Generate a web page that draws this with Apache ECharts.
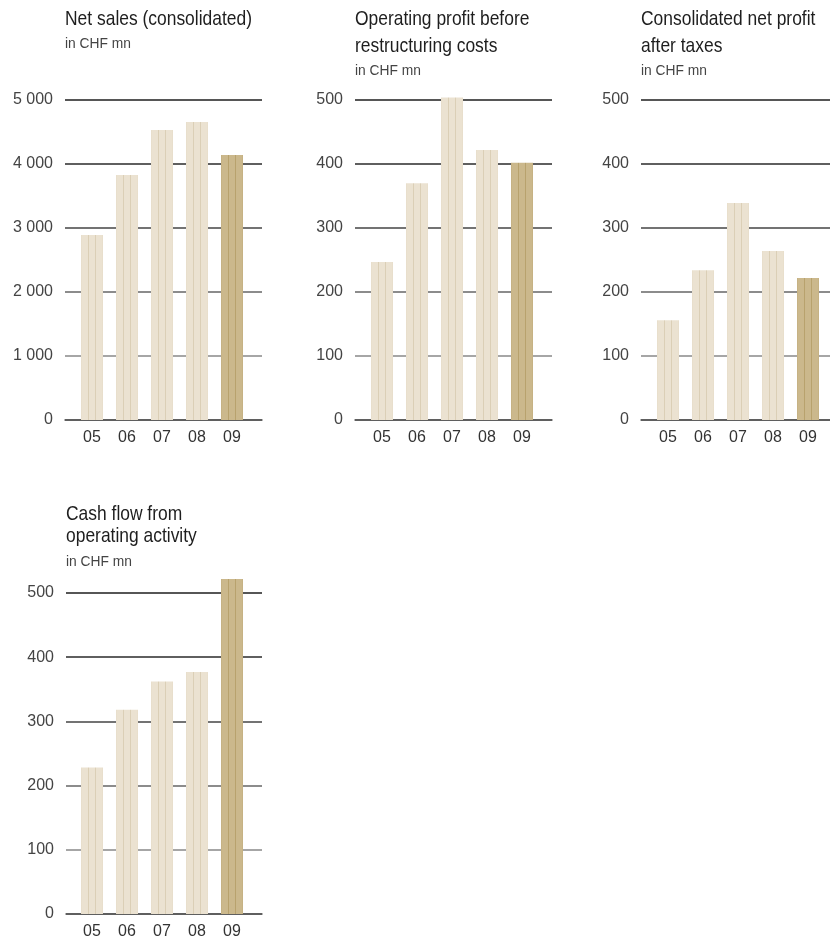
<!DOCTYPE html>
<html><head><meta charset="utf-8">
<script src="https://cdn.jsdelivr.net/npm/echarts@6/dist/echarts.min.js"></script>
<style>html,body{margin:0;padding:0;background:#fff}#c{width:830px;height:941px}</style>
</head><body><div id="c"></div>
<script>
const years = ['05','06','07','08','09'];
const netSales = [2890, 3830, 4530, 4655, 4140];
const opProfit = [247, 370, 504, 422, 402];
const netProfit = [156, 234, 339, 264, 222];
const cashFlow = [228, 318, 362, 377, 522];
const ticksSales = [0, 1000, 2000, 3000, 4000, 5000];
const ticksProfit = [0, 100, 200, 300, 400, 500];
const titles = [['Net sales (consolidated)'], ['Operating profit before', 'restructuring costs'], ['Consolidated net profit', 'after taxes'], ['Cash flow from', 'operating activity']];
const unit = 'in CHF mn';

const FONT = '"Liberation Sans", Arial, sans-serif';

function stripes(base, stripe, edge) {
  return {type:'linear', x:0, y:0, x2:1, y2:0, colorStops:[
    {offset:0, color:edge},{offset:0.05, color:base},{offset:0.3, color:base},
    {offset:0.3, color:stripe},{offset:0.37, color:stripe},
    {offset:0.37, color:base},{offset:0.63, color:base},
    {offset:0.63, color:stripe},{offset:0.70, color:stripe},
    {offset:0.70, color:base},{offset:0.95, color:base},{offset:1, color:edge}
  ]};
}
const light = stripes('#ebe2d1', '#dbcfb6', '#e6dcc8');
const dark = stripes('#cbb88c', '#b8a26d', '#c2ad7d');

const panels = [
  {vals: netSales, ticks: ticksSales, ax:[65,262], y:[100,420], bl:74.5, base:26.7, ls:26.6, sg:23.5, fmt: v => v >= 1000 ? Math.floor(v/1000) + ' ' + String(v%1000).padStart(3,'0') : String(v)},
  {vals: opProfit, ticks: ticksProfit, ax:[355,552], y:[100,420], bl:364.5, base:26.7, ls:26.6, sg:23.5, fmt: v => String(v)},
  {vals: netProfit, ticks: ticksProfit, ax:[641,830], y:[100,420], bl:650.5, base:26.7, ls:26.6, sg:23.5, fmt: v => String(v)},
  {vals: cashFlow, ticks: ticksProfit, ax:[66,262], y:[593,914], bl:74.5, base:521, ls:22.4, sg:24.4, fmt: v => String(v)}
];

const grid = [], xAxis = [], yAxis = [], series = [], graphic = [];
panels.forEach((p, i) => {
  const mx = p.ticks[p.ticks.length-1], iv = p.ticks[1]-p.ticks[0];
  const h = p.y[1]-p.y[0];
  grid.push({left:p.ax[0], width:p.ax[1]-p.ax[0], top:p.y[0], height:h});
  grid.push({left:p.bl, width:175, top:p.y[0], height:h});
  xAxis.push({type:'category', gridIndex:2*i, data:years, boundaryGap:true,
    axisLine:{show:true, lineStyle:{color:'#555', width:1.5}}, axisTick:{show:false}, axisLabel:{show:false}});
  xAxis.push({type:'category', gridIndex:2*i+1, data:years, boundaryGap:true,
    axisLine:{show:false}, axisTick:{show:false},
    axisLabel:{color:'#333', fontSize:16, fontFamily:FONT, margin:10}});
  yAxis.push({type:'value', gridIndex:2*i, min:0, max:mx, interval:iv,
    axisLine:{show:false}, axisTick:{show:false},
    axisLabel:{color:'#444', fontSize:16, fontFamily:FONT, margin:12, formatter:p.fmt},
    splitLine:{show:true, lineStyle:{color:['#555','#888','#666','#444','#2a2a2a','#1e1e1e'], width:1.5}}});
  yAxis.push({type:'value', gridIndex:2*i+1, min:0, max:mx, interval:iv, show:false, splitLine:{show:false}});
  series.push({type:'bar', xAxisIndex:2*i+1, yAxisIndex:2*i+1, barWidth:22, z:3, clip:false,
    data: p.vals.map((v, k) => ({value:v, itemStyle:{color: k === p.vals.length-1 ? dark : light}}))});
  titles[i].forEach((t, j) => {
    graphic.push({type:'text', x:p.ax[0], y:p.base - 17.5 + p.ls*j, scaleX:0.83, z:10,
      style:{text:t, font:'21px ' + FONT, fill:'#1e1e1e'}});
  });
  graphic.push({type:'text', x:p.ax[0], y:p.base + p.ls*(titles[i].length-1) + p.sg - 13.5, scaleX:0.92, z:10,
    style:{text:unit, font:'15px ' + FONT, fill:'#444'}});
});

const chart = echarts.init(document.getElementById('c'), null, {renderer:'canvas'});
chart.setOption({animation:false, backgroundColor:'#fff', graphic, grid, xAxis, yAxis, series});
</script></body></html>
